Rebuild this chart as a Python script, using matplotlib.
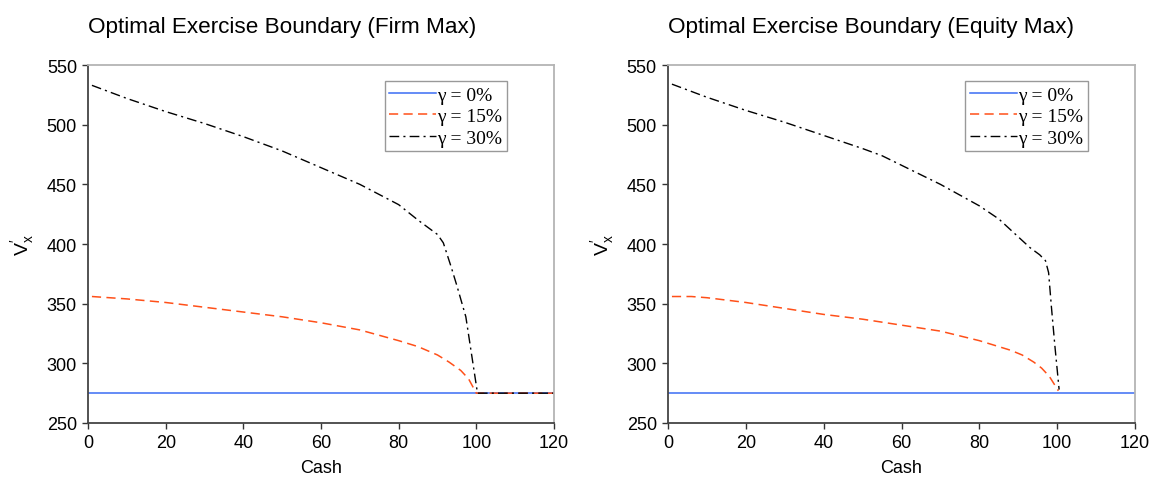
import numpy as np
import matplotlib
matplotlib.use("Agg")
import matplotlib.pyplot as plt

plt.rcParams['font.family'] = ['Liberation Sans', 'DejaVu Sans']

# cash grid and boundaries
firm_cash_0 = [0, 120]
firm_v_0 = [275, 275]
firm_cash_15 = [1, 10, 20, 30, 40, 50, 60, 70, 80, 85, 90, 93, 96, 98, 100, 110, 120]
firm_v_15 = [356, 354, 351, 347, 343, 339, 334, 328, 319, 314, 307, 301, 294, 287, 275, 275, 275]
firm_cash_30 = [1, 10, 20, 30, 40, 50, 60, 70, 80, 85, 90, 91.5, 93.5, 95, 97.3, 100.3, 110, 120]
firm_v_30 = [533, 522, 511, 501, 490, 478, 464, 450, 433, 420, 408, 401, 381, 365, 339, 275, 275, 275]

eq_cash_0 = [0, 120]
eq_v_0 = [275, 275]
eq_cash_15 = [1, 6, 10, 20, 30, 40, 50, 60, 70, 80, 85, 88, 91, 94, 96, 98, 100.3]
eq_v_15 = [356, 356, 355, 351, 346, 341, 337, 332, 327, 319, 314, 311, 307, 301, 296, 289, 277]
eq_cash_30 = [1, 10, 20, 30, 40, 50, 55, 60, 70, 80, 85, 90, 93, 95.5, 97, 97.8, 98.5, 99.4, 100.5]
eq_v_30 = [534, 523, 512, 502, 491, 480, 474, 466, 450, 432, 421, 406, 397, 391, 386, 376, 348, 315, 278]

labels = ["γ = 0%", "γ = 15%", "γ = 30%"]
titles = ["Optimal Exercise Boundary (Firm Max)", "Optimal Exercise Boundary (Equity Max)"]

blue = "#3a6cf4"
orange = "#ff5019"

fig = plt.figure(figsize=(11.51, 4.85), dpi=100)
ax1 = fig.add_axes([0.0765, 0.1258, 0.4048, 0.738])
ax2 = fig.add_axes([0.5804, 0.1258, 0.4057, 0.738])

panels = [
    (ax1, (firm_cash_0, firm_v_0), (firm_cash_15, firm_v_15), (firm_cash_30, firm_v_30)),
    (ax2, (eq_cash_0, eq_v_0), (eq_cash_15, eq_v_15), (eq_cash_30, eq_v_30)),
]

for i, (ax, s0, s15, s30) in enumerate(panels):
    ax.plot(s0[0], s0[1], color=blue, lw=1.1, label=labels[0])
    ax.plot(s15[0], s15[1], color=orange, lw=1.1, dashes=(6, 3.5), label=labels[1])
    ax.plot(s30[0], s30[1], color="black", lw=1.0, dashes=(7, 3, 1.5, 3), label=labels[2])

    ax.set_xlim(0, 120)
    ax.set_ylim(250, 550)
    ax.set_xticks(np.arange(0, 121, 20))
    ax.set_yticks(np.arange(250, 551, 50))
    ax.tick_params(axis='both', direction='out', length=4.5, width=1, labelsize=13, colors='#333333', labelcolor='black')
    for side in ['top', 'right']:
        ax.spines[side].set_color('#b4b4b4')
        ax.spines[side].set_linewidth(1.3)
    for side in ['left', 'bottom']:
        ax.spines[side].set_color('#444444')
        ax.spines[side].set_linewidth(1.3)

    ax.set_xlabel("Cash", fontsize=13, labelpad=6)
    ax.set_ylabel(r"$\mathregular{V^{\prime}_{x}}$", fontsize=14, labelpad=8)
    ax.set_title(titles[i], loc='left', fontsize=16.2, pad=24)

    leg = ax.legend(loc='upper right', bbox_to_anchor=(0.899, 0.955), borderaxespad=0,
                    prop={'family': 'Liberation Serif', 'size': 14},
                    handlelength=2.4, handletextpad=0.05, labelspacing=0.2,
                    borderpad=0.25, fancybox=False, framealpha=1)
    leg.get_frame().set_edgecolor('#999999')
    leg.get_frame().set_linewidth(1.0)

fig.savefig("out.png", dpi=100)
